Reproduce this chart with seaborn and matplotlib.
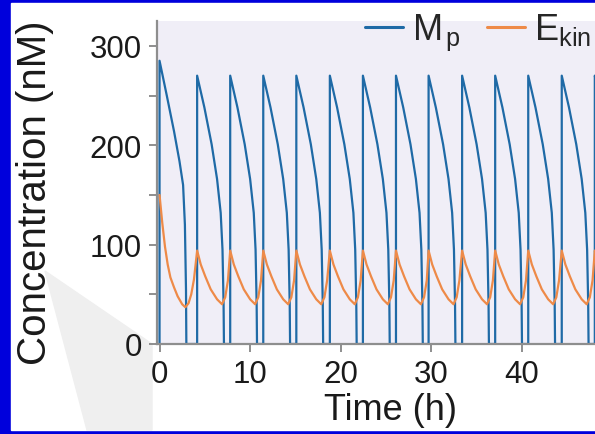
import matplotlib
matplotlib.use("Agg")
import matplotlib.pyplot as plt
from matplotlib.patches import Rectangle, Polygon
from matplotlib.lines import Line2D
import seaborn as sns
import pandas as pd

# ---- data ----
mp_time = [0.0, 0.0, 0.8, 1.6, 2.2, 2.6, 2.8, 2.92, 2.96,
           4.15, 4.15, 4.95, 5.75, 6.35, 6.75, 6.95, 7.07, 7.11,
           7.8, 7.8, 8.6, 9.4, 10.0, 10.4, 10.6, 10.72, 10.76,
           11.45, 11.45, 12.25, 13.05, 13.65, 14.05, 14.25, 14.37, 14.41,
           15.1, 15.1, 15.9, 16.7, 17.3, 17.7, 17.9, 18.02, 18.06,
           18.8, 18.8, 19.6, 20.4, 21.0, 21.4, 21.6, 21.72, 21.76,
           22.45, 22.45, 23.25, 24.05, 24.65, 25.05, 25.25, 25.37, 25.41,
           26.1, 26.1, 26.9, 27.7, 28.3, 28.7, 28.9, 29.02, 29.06,
           29.7, 29.7, 30.5, 31.3, 31.9, 32.3, 32.5, 32.62, 32.66,
           33.4, 33.4, 34.2, 35.0, 35.6, 36.0, 36.2, 36.32, 36.36,
           37.05, 37.05, 37.85, 38.65, 39.25, 39.65, 39.85, 39.97, 40.01,
           40.7, 40.7, 41.5, 42.3, 42.9, 43.3, 43.5, 43.62, 43.66,
           44.4, 44.4, 45.2, 46.0, 46.6, 47.0, 47.2, 47.32, 47.36,
           48.05, 48.05, 48.6]
mp_value = [0, 285, 250, 214, 184, 160, 120, 55, 0,
            0, 270, 238, 201, 166, 132, 95, 40, 0,
            0, 270, 238, 201, 166, 132, 95, 40, 0,
            0, 270, 238, 201, 166, 132, 95, 40, 0,
            0, 270, 238, 201, 166, 132, 95, 40, 0,
            0, 270, 238, 201, 166, 132, 95, 40, 0,
            0, 270, 238, 201, 166, 132, 95, 40, 0,
            0, 270, 238, 201, 166, 132, 95, 40, 0,
            0, 270, 238, 201, 166, 132, 95, 40, 0,
            0, 270, 238, 201, 166, 132, 95, 40, 0,
            0, 270, 238, 201, 166, 132, 95, 40, 0,
            0, 270, 238, 201, 166, 132, 95, 40, 0,
            0, 270, 238, 201, 166, 132, 95, 40, 0,
            0, 270, 245]

ekin_time = [0.0, 0.3, 0.6, 0.9, 1.2, 1.6, 2.0, 2.5, 2.85, 3.2, 3.5, 3.8,
             4.15, 4.55, 5.05, 5.65, 6.35, 6.9, 7.25, 7.55,
             7.8, 8.2, 8.7, 9.3, 10.0, 10.55, 10.9, 11.2,
             11.45, 11.85, 12.35, 12.95, 13.65, 14.2, 14.55, 14.85,
             15.1, 15.5, 16.0, 16.6, 17.3, 17.85, 18.2, 18.5,
             18.8, 19.2, 19.7, 20.3, 21.0, 21.55, 21.9, 22.2,
             22.45, 22.85, 23.35, 23.95, 24.65, 25.2, 25.55, 25.85,
             26.1, 26.5, 27.0, 27.6, 28.3, 28.85, 29.2, 29.5,
             29.7, 30.1, 30.6, 31.2, 31.9, 32.45, 32.8, 33.1,
             33.4, 33.8, 34.3, 34.9, 35.6, 36.15, 36.5, 36.8,
             37.05, 37.45, 37.95, 38.55, 39.25, 39.8, 40.15, 40.45,
             40.7, 41.1, 41.6, 42.2, 42.9, 43.45, 43.8, 44.1,
             44.4, 44.8, 45.3, 45.9, 46.6, 47.15, 47.5, 47.8,
             48.05, 48.45]
ekin_value = [150, 122, 98, 80, 67, 57, 48, 40, 37, 41, 50, 65,
              94, 80, 68, 55, 45, 40, 47, 64,
              94, 80, 68, 55, 45, 40, 47, 64,
              94, 80, 68, 55, 45, 40, 47, 64,
              94, 80, 68, 55, 45, 40, 47, 64,
              94, 80, 68, 55, 45, 40, 47, 64,
              94, 80, 68, 55, 45, 40, 47, 64,
              94, 80, 68, 55, 45, 40, 47, 64,
              94, 80, 68, 55, 45, 40, 47, 64,
              94, 80, 68, 55, 45, 40, 47, 64,
              94, 80, 68, 55, 45, 40, 47, 64,
              94, 80, 68, 55, 45, 40, 47, 64,
              94, 80, 68, 55, 45, 40, 47, 64,
              94, 80]

x_ticks = [0, 10, 20, 30, 40]
y_ticks = [0, 100, 200, 300]
y_minor = [50, 150, 250]
series_labels = [r"$\mathrm{M_{\,p}}$", r"$\mathrm{E_{kin}}$"]

# ---- style ----
sns.set_style("white")
plt.rcParams["font.family"] = ["Liberation Sans", "DejaVu Sans"]
plt.rcParams["mathtext.fontset"] = "custom"
plt.rcParams["mathtext.rm"] = "Liberation Sans"
plt.rcParams["mathtext.it"] = "Liberation Sans:italic"

W, H = 595, 435
fig = plt.figure(figsize=(W / 100, H / 100), dpi=100, facecolor="#0000dc")
fig.patches.append(Rectangle((11 / W, 4 / H), 584 / W, 427 / H,
                             transform=fig.transFigure, color="white", zorder=-2))
fig.patches.append(Polygon([(45 / W, 1 - 272 / H), (152 / W, 1 - 345 / H),
                            (152 / W, 1 - 431 / H), (87 / W, 1 - 431 / H)],
                           closed=True, transform=fig.transFigure,
                           color="#efefef", zorder=-1))

ax = fig.add_axes([157 / W, 90 / H, 438 / W, 323 / H])
ax.set_facecolor("#f0eef7")

df_mp = pd.DataFrame({"t": mp_time, "c": mp_value})
df_ek = pd.DataFrame({"t": ekin_time, "c": ekin_value})
blue, orange = "#1f6aa6", "#ee8a48"
sns.lineplot(data=df_mp, x="t", y="c", ax=ax, sort=False, estimator=None,
             color=blue, lw=1.6)
sns.lineplot(data=df_ek, x="t", y="c", ax=ax, sort=False, estimator=None,
             color=orange, lw=1.6)

ax.set_xlim(-0.28, 48.07)
ax.set_ylim(0, 325)
ax.set_xticks(x_ticks)
ax.set_yticks(y_ticks)
ax.set_yticks(y_minor, minor=True)
for s in ["top", "right"]:
    ax.spines[s].set_visible(False)
for s in ["left", "bottom"]:
    ax.spines[s].set_color("#8e8e8e")
    ax.spines[s].set_linewidth(1.6)
ax.tick_params(axis="both", which="both", direction="out", color="#8e8e8e",
               width=1.4, labelsize=22.5, labelcolor="#1a1a1a")
ax.tick_params(axis="both", which="major", length=6, pad=5)
ax.tick_params(axis="y", which="minor", length=6, left=True)
ax.tick_params(axis="x", which="major", bottom=True)
ax.tick_params(axis="y", which="major", left=True)

ax.set_xlabel("Time (h)", fontsize=26, color="#1a1a1a")
ax.set_ylabel("Concentration (nM)", fontsize=29, color="#1a1a1a")
ax.xaxis.set_label_coords(0.532, -0.15)
ax.yaxis.set_label_coords(-0.235, 0.47)

handles = [Line2D([], [], color=blue, lw=2.2), Line2D([], [], color=orange, lw=2.2)]
ax.legend(handles, series_labels, ncol=2, frameon=False, loc="upper right",
          bbox_to_anchor=(0.99, 1.03), fontsize=26, handlelength=1.05,
          handletextpad=0.25, columnspacing=0.7, borderaxespad=0, borderpad=0)

fig.savefig("out.png", dpi=100, facecolor=fig.get_facecolor())
